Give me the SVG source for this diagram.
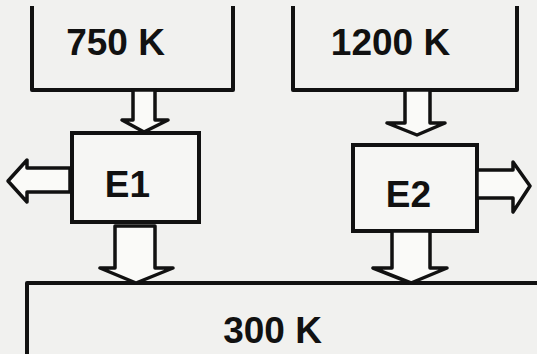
<svg xmlns="http://www.w3.org/2000/svg" width="537" height="354" viewBox="0 0 537 354">
<style>
.ln{fill:none;stroke:#111;stroke-width:4;stroke-linejoin:round;stroke-linecap:square}
.bx{fill:#f6f6f4;stroke:#111;stroke-width:4}
.ar{fill:#fafaf8;stroke:#111;stroke-width:3.5;stroke-linejoin:round}
.t{font-family:"Liberation Sans",Arial,sans-serif;font-weight:bold;font-size:37px;fill:#111;text-anchor:middle}
</style>
<rect x="0" y="0" width="537" height="354" fill="#f1f1ef"/>
<g id="hot750">
<path class="ln" d="M32,8 V90 H233 V8"/>
<text class="t" x="115.5" y="55">750 K</text>
</g>
<g id="hot1200">
<path class="ln" d="M293,8 V90 H517 V8"/>
<text class="t" x="390.5" y="55">1200 K</text>
</g>
<g id="cold300">
<path class="ln" d="M27,352 V283 H537"/>
<text class="t" x="272.5" y="343">300 K</text>
</g>
<g id="E1">
<rect class="bx" x="72" y="133" width="127" height="89"/>
<text class="t" x="127.5" y="197">E1</text>
</g>
<g id="E2">
<rect class="bx" x="353" y="145" width="124" height="86"/>
<text class="t" x="408.5" y="207">E2</text>
</g>
<g id="connectors">
<polygon class="ar" points="133,90 155,90 155,120 168,120 144,132 122,120 133,120"/>
<polygon class="ar" points="405,90 430,90 430,123 445,123 417,135 387,123 405,123"/>
<polygon class="ar" points="115,226 155,226 155,268 173,268 136,283 100,268 115,268"/>
<polygon class="ar" points="392,231 430,231 430,268 447,268 411,283 373,268 392,268"/>
<polygon class="ar" points="70,168 70,192 27,192 27,202 8,181 27,160 27,168"/>
<polygon class="ar" points="477,170 513,170 513,162 530,186 513,212 513,198 477,198"/>
</g>
</svg>
